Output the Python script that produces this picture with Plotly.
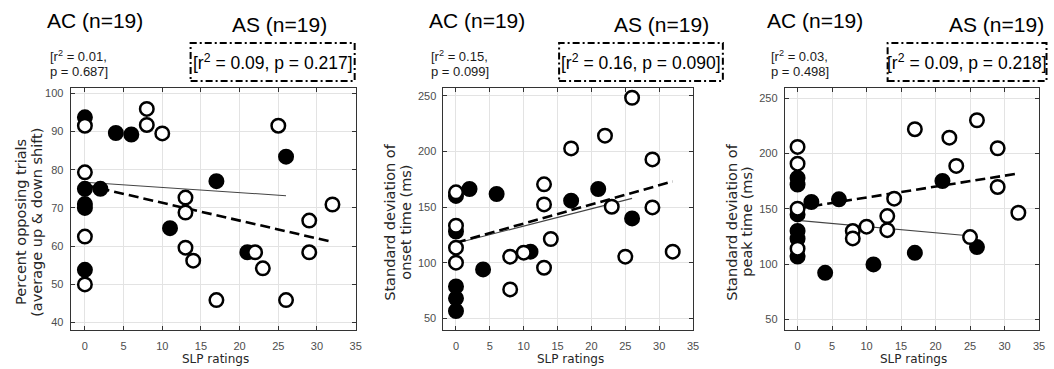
import plotly.graph_objects as go

W, H = 1054, 369

# ---------------- data ----------------
x_ticks = [0, 5, 10, 15, 20, 25, 30, 35]

# Panel 1: Percent opposing trials
p1_ac_x = [0, 0, 0, 0, 0, 2, 4, 6, 11, 17, 21, 26]
p1_ac_y = [93.7, 75.0, 71.0, 70.0, 53.8, 75.0, 89.6, 89.2, 64.7, 77.0, 58.4, 83.4]
p1_as_x = [0, 0, 0, 0, 8, 8, 10, 13, 13, 13, 14, 17, 22, 23, 25, 26, 29, 29, 32]
p1_as_y = [91.5, 79.3, 62.5, 50.0, 95.9, 91.7, 89.5, 72.7, 68.8, 59.6, 56.2, 45.9,
           58.4, 54.2, 91.5, 45.9, 66.7, 58.4, 70.9]
p1_ac_fit_x = [0, 26]
p1_ac_fit_y = [76.7, 73.2]
p1_as_fit_x = [0, 32]
p1_as_fit_y = [76.0, 61.1]
p1_y_ticks = [40, 50, 60, 70, 80, 90, 100]

# Panel 2: SD of onset time
p2_ac_x = [0, 0, 0, 0, 0, 2, 4, 6, 11, 17, 21, 26]
p2_ac_y = [160, 128, 78.7, 68, 56.6, 166.2, 94, 161.7, 109.9, 155.7, 166.2, 139.8]
p2_as_x = [0, 0, 0, 0, 8, 8, 10, 13, 13, 13, 14, 17, 22, 23, 25, 26, 29, 29, 32]
p2_as_y = [163.2, 133.2, 113.5, 100, 105.4, 76, 109, 170.4, 152.4, 95.5, 121.3, 202.7,
           214.1, 150.3, 105.4, 248.2, 192.8, 149.7, 109.9]
p2_ac_fit_x = [0, 26]
p2_ac_fit_y = [117.4, 157.8]
p2_as_fit_x = [0, 32]
p2_as_fit_y = [118.0, 173.0]
p2_y_ticks = [50, 100, 150, 200, 250]

# Panel 3: SD of peak time
p3_ac_x = [0, 0, 0, 0, 0, 0, 2, 4, 6, 11, 17, 21, 26]
p3_ac_y = [178, 172, 145, 130, 123, 107, 156.2, 92.2, 158.6, 99.8, 110.3, 175.2, 115.5]
p3_as_x = [0, 0, 0, 0, 8, 8, 10, 13, 13, 14, 17, 22, 23, 25, 26, 29, 29, 32]
p3_as_y = [206, 190.9, 150.2, 114, 130, 123.3, 133.9, 143.5, 130.8, 159.2, 222, 214.4,
           188.8, 124.5, 230.1, 204.8, 169.8, 146.5]
p3_ac_fit_x = [0, 26]
p3_ac_fit_y = [139.6, 125.0]
p3_as_fit_x = [0, 32]
p3_as_fit_y = [150.4, 182.0]
p3_y_ticks = [50, 100, 150, 200, 250]

group_titles = ["AC (n=19)", "AS (n=19)"]
ac_stats_line1 = ["[r<sup>2</sup> = 0.01,", "[r<sup>2</sup> = 0.15,", "[r<sup>2</sup> = 0.03,"]
ac_stats_line2 = ["p = 0.687]", "p = 0.099]", "p = 0.498]"]
as_stats = ["[r<sup>2</sup> = 0.09, p = 0.217]",
            "[r<sup>2</sup> = 0.16, p = 0.090]",
            "[r<sup>2</sup> = 0.09, p = 0.218]"]
y_titles_line1 = ["Percent opposing trials", "Standard deviation of", "Standard deviation of"]
y_titles_line2 = ["(average up & down shift)", "onset time (ms)", "peak time (ms)"]
x_title = "SLP ratings"

# ---------------- layout geometry (pixels) ----------------
def px(x):
    return x / W

def py(y):
    return 1 - y / H

panels = [
    dict(x0=71, x1=357.7, yr=[38.2, 101.5], yt=p1_y_ticks,
         ac=(p1_ac_x, p1_ac_y), as_=(p1_as_x, p1_as_y),
         acf=(p1_ac_fit_x, p1_ac_fit_y), asf=(p1_as_fit_x, p1_as_fit_y),
         ac_title_cx=96, as_title_cx=281, stat_x=48, box=(191.7, 356.7), ytl=(21, 37)),
    dict(x0=446, x1=697, yr=[40, 257.4], yt=p2_y_ticks,
         ac=(p2_ac_x, p2_ac_y), as_=(p2_as_x, p2_as_y),
         acf=(p2_ac_fit_x, p2_ac_fit_y), asf=(p2_as_fit_x, p2_as_fit_y),
         ac_title_cx=480, as_title_cx=665, stat_x=431, box=(562.3, 727), ytl=(392, 408)),
    dict(x0=789.3, x1=1045, yr=[41, 259.7], yt=p3_y_ticks,
         ac=(p3_ac_x, p3_ac_y), as_=(p3_as_x, p3_as_y),
         acf=(p3_ac_fit_x, p3_ac_fit_y), asf=(p3_as_fit_x, p3_as_fit_y),
         ac_title_cx=820, as_title_cx=1002, stat_x=773, box=(892.7, 1052.5), ytl=(736, 751)),
]

plot_top, plot_bot = 87.5, 329.5

fig = go.Figure()
annotations = []
shapes = []

SANS = "Liberation Sans, Arial, sans-serif"
TICK_FONT = dict(family=SANS, size=11, color="#4d4d4d")
AX_COL = "#333333"
GRID_COL = "#e3e3e3"


def add_text(text, x, y, size, family=SANS, color="black", xanchor="center", angle=0):
    annotations.append(dict(text=text, x=px(x), y=py(y), xref="paper", yref="paper",
                            showarrow=False, xanchor=xanchor, yanchor="middle",
                            textangle=angle, font=dict(family=family, size=size, color=color)))


for i, p in enumerate(panels):
    n = i + 1
    xa = "x" if n == 1 else f"x{n}"
    ya = "y" if n == 1 else f"y{n}"
    # fit lines first (behind markers)
    fig.add_trace(go.Scatter(x=p["acf"][0], y=p["acf"][1], mode="lines",
                             line=dict(color="#444444", width=1.1),
                             xaxis=xa, yaxis=ya, showlegend=False, hoverinfo="skip"))
    fig.add_trace(go.Scatter(x=p["asf"][0], y=p["asf"][1], mode="lines",
                             line=dict(color="black", width=2.6, dash="10px,5px"),
                             xaxis=xa, yaxis=ya, showlegend=False, hoverinfo="skip"))
    # AC filled
    fig.add_trace(go.Scatter(x=p["ac"][0], y=p["ac"][1], mode="markers",
                             marker=dict(size=13.5, color="black",
                                         line=dict(color="black", width=2.5)),
                             xaxis=xa, yaxis=ya, showlegend=False, cliponaxis=False))
    # AS open
    fig.add_trace(go.Scatter(x=p["as_"][0], y=p["as_"][1], mode="markers",
                             marker=dict(size=13.5, color="white",
                                         line=dict(color="black", width=2.5)),
                             xaxis=xa, yaxis=ya, showlegend=False, cliponaxis=False))

    axis_common = dict(showline=True, linecolor=AX_COL, linewidth=1, mirror="ticks",
                       ticks="inside", ticklen=4, tickcolor=AX_COL, tickwidth=1,
                       showgrid=True, gridcolor=GRID_COL, gridwidth=1, zeroline=False,
                       tickfont=TICK_FONT)
    fig.update_layout(**{
        ("xaxis" if n == 1 else f"xaxis{n}"): dict(
            domain=[px(p["x0"]), px(p["x1"])], range=[-1.85, 35.0],
            tickvals=x_ticks, ticktext=[str(v) for v in x_ticks],
            anchor=ya, ticklabelstandoff=6, **axis_common),
        ("yaxis" if n == 1 else f"yaxis{n}"): dict(
            domain=[py(plot_bot), py(plot_top)], range=p["yr"],
            tickvals=p["yt"], ticktext=[str(v) for v in p["yt"]],
            anchor=xa, ticklabelstandoff=4, **axis_common),
    })

    # group titles
    add_text(group_titles[0], p["ac_title_cx"], 20.5, 21)
    add_text(group_titles[1], p["as_title_cx"], 24, 21)
    # AC stats (two lines)
    add_text(ac_stats_line1[i], p["stat_x"], 56, 13, color="#1a1a1a", xanchor="left")
    add_text(ac_stats_line2[i], p["stat_x"], 71.5, 13, color="#1a1a1a", xanchor="left")
    # AS stats box
    bx0, bx1 = p["box"]
    shapes.append(dict(type="rect", xref="paper", yref="paper",
                       x0=px(bx0), x1=px(bx1), y0=py(81), y1=py(43),
                       line=dict(color="black", width=2, dash="7px,3px,2px,3px")))
    add_text(as_stats[i], (bx0 + bx1) / 2, 62.5, 17.5)
    # y title (two rotated lines)
    add_text(y_titles_line1[i], p["ytl"][0], 222, 14.5, family="DejaVu Sans",
             color="#262626", angle=-90)
    add_text(y_titles_line2[i], p["ytl"][1], 222, 14.5, family="DejaVu Sans",
             color="#262626", angle=-90)
    # x title
    add_text(x_title, (p["x0"] + p["x1"]) / 2 + 2, 358.5, 12, family="DejaVu Sans",
             color="#262626")

fig.update_layout(width=W, height=H, margin=dict(l=0, r=0, t=0, b=0),
                  paper_bgcolor="white", plot_bgcolor="white",
                  annotations=annotations, shapes=shapes, showlegend=False)

fig.write_html("out.html", config={"displayModeBar": False},
               post_script="document.body.style.margin='0px';document.body.style.padding='0px';")
